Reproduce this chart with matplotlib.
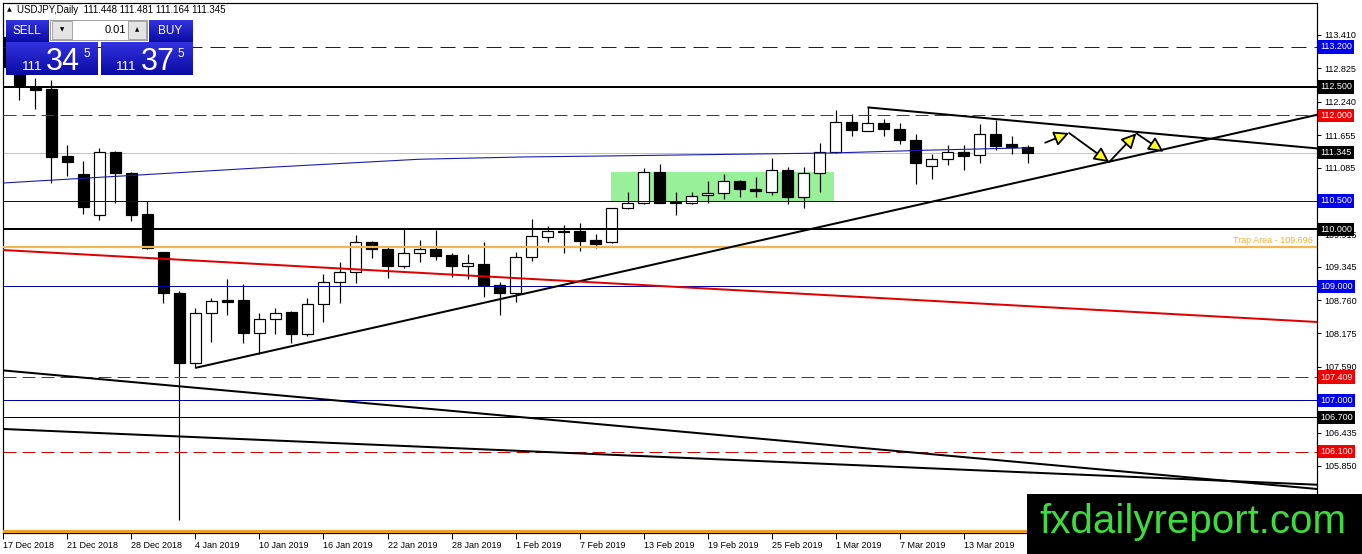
import matplotlib
matplotlib.use("Agg")
import matplotlib.pyplot as plt
from matplotlib.patches import Rectangle
import numpy as np
import pandas as pd

plt.rcParams["font.family"] = ["Liberation Sans", "DejaVu Sans"]

# daily bars, 17 Dec 2018 - 19 Mar 2019 (no bars on 25 Dec and 1 Jan)
bar_dates = pd.bdate_range("2018-12-17", "2019-03-19").drop(pd.to_datetime(["2018-12-25", "2019-01-01"]))

opens = [113.37, 112.84, 112.50, 112.47, 111.28, 110.97, 110.26, 111.36, 110.98, 110.27,
         109.60, 108.88, 107.66, 108.53, 108.76, 108.76, 108.18, 108.42, 108.55, 108.16,
         108.69, 109.08, 109.25, 109.77, 109.65, 109.36, 109.59, 109.65, 109.55, 109.35,
         109.39, 109.03, 108.88, 109.51, 109.87, 109.97, 109.97, 109.81, 109.77, 110.37,
         110.47, 111.00, 110.46, 110.46, 110.60, 110.63, 110.84, 110.70, 110.65, 111.05,
         110.57, 110.98, 111.36, 111.89, 111.73, 111.87, 111.76, 111.57, 111.12, 111.23,
         111.36, 111.30, 111.67, 111.49, 111.448]
highs = [113.49, 112.88, 112.66, 112.62, 111.48, 111.20, 111.42, 111.37, 111.00, 110.50,
         109.61, 108.92, 108.62, 108.79, 109.13, 109.04, 108.53, 108.62, 108.56, 108.79,
         109.21, 109.42, 109.90, 109.80, 109.69, 110.00, 109.81, 109.98, 109.58, 109.57,
         109.77, 109.08, 109.61, 110.18, 110.06, 110.08, 110.11, 109.91, 110.37, 110.66,
         111.07, 111.15, 110.65, 110.66, 110.85, 110.97, 110.87, 110.91, 111.25, 111.09,
         111.09, 111.51, 112.09, 112.02, 112.14, 111.93, 111.86, 111.67, 111.33, 111.48,
         111.48, 111.85, 111.91, 111.64, 111.481]
lows = [112.77, 112.27, 112.11, 110.82, 110.94, 110.27, 110.16, 110.47, 110.15, 109.66,
        108.71, 104.90, 107.57, 108.03, 108.49, 108.00, 107.81, 108.16, 108.00, 108.13,
        108.38, 108.70, 109.06, 109.49, 109.15, 109.33, 109.43, 109.46, 109.17, 109.13,
        108.82, 108.50, 108.73, 109.45, 109.78, 109.58, 109.62, 109.67, 109.76, 110.36,
        110.44, 110.46, 110.25, 110.45, 110.47, 110.53, 110.57, 110.57, 110.60, 110.44,
        110.37, 110.66, 111.34, 111.64, 111.73, 111.63, 111.49, 110.79, 110.88, 111.13,
        111.04, 111.16, 111.40, 111.32, 111.164]
closes = [112.84, 112.53, 112.45, 111.27, 111.19, 110.39, 111.36, 110.98, 110.25, 109.67,
          108.88, 107.66, 108.53, 108.74, 108.73, 108.18, 108.42, 108.53, 108.16, 108.69,
          109.08, 109.25, 109.77, 109.65, 109.36, 109.59, 109.65, 109.54, 109.35, 109.41,
          109.02, 108.88, 109.51, 109.88, 109.97, 109.96, 109.80, 109.74, 110.37, 110.47,
          111.00, 110.47, 110.48, 110.59, 110.64, 110.84, 110.70, 110.68, 111.05, 110.57,
          110.98, 111.36, 111.89, 111.74, 111.87, 111.76, 111.56, 111.16, 111.23, 111.35,
          111.29, 111.67, 111.47, 111.45, 111.345]

# horizontal levels
levels = [113.200, 112.500, 112.000, 110.500, 110.000, 109.000, 107.409, 107.000, 106.700, 106.100]
trap_level = 109.696
bottom_level = 104.71

# moving average line (bar index, price)
ma_bars = [-0.2, 16.7, 26.0, 32.5, 38.4, 51.8, 57.9, 64.0]
ma_prices = [110.81, 111.09, 111.23, 111.27, 111.29, 111.34, 111.39, 111.43]

# trend lines: (bar0, price0, bar1, price1)
support_line = (12.0, 107.57, 82.1, 112.01)
resistance_line = (54.0, 112.14, 82.1, 111.42)
red_line = (-0.2, 109.64, 82.1, 108.375)
long_line_1 = (-0.2, 107.53, 82.1, 105.445)
long_line_2 = (-0.2, 106.50, 82.1, 105.52)

# consolidation box (bar from, bar to, price low, price high)
green_box = (37.97, 51.9, 110.50, 111.00)

# projected path with arrows (bar index, price)
path_bars = [65.1, 66.6, 69.1, 70.8, 72.5]
path_prices = [111.52, 111.69, 111.18, 111.685, 111.36]

y_ticks = [113.410, 112.825, 112.240, 111.655, 111.085, 110.500, 109.915, 109.345,
           108.760, 108.175, 107.590, 107.020, 106.435, 105.850, 105.265]
# ticks whose labels sit under a price box are left blank
hidden_ticks = [110.500, 107.020]

W, H = 1362, 554
fig = plt.figure(figsize=(W / 100, H / 100), dpi=100)
ax = fig.add_axes([3 / W, 1 - 533 / H, 1314 / W, 530 / H])
ax.set_xlim(-0.03, 82.09)
ax.set_ylim(104.673, 113.971)

px = 0.72  # one pixel in points

# green box behind candles
ax.add_patch(Rectangle((green_box[0], green_box[2]), green_box[1] - green_box[0],
                       green_box[3] - green_box[2], facecolor="#98f098", edgecolor="none", zorder=1))

# candles
for i, (o, h, l, c) in enumerate(zip(opens, highs, lows, closes)):
    ax.vlines(i, l, h, color="black", lw=px * 1.2, zorder=3)
    body = max(abs(c - o), 0.014)
    face = "white" if c > o else "black"
    ax.add_patch(Rectangle((i - 0.33, min(o, c)), 0.66, body, facecolor=face,
                           edgecolor="black", lw=px * 1.2, zorder=4))

# horizontal lines
level_style = {
    113.200: dict(color="#1010a0", lw=px, ls=(0, (15, 8))),
    112.500: dict(color="black", lw=2 * px, ls="-"),
    112.000: dict(color="#d00000", lw=px, ls=(0, (13, 6))),
    110.500: dict(color="#0000a0", lw=px, ls="-"),
    110.000: dict(color="black", lw=2 * px, ls="-"),
    109.000: dict(color="#0000a0", lw=px, ls="-"),
    107.409: dict(color="#d00000", lw=px, ls=(0, (13, 6))),
    107.000: dict(color="#0000a0", lw=px, ls="-"),
    106.700: dict(color="black", lw=px, ls="-"),
    106.100: dict(color="#d00000", lw=px, ls=(0, (13, 6))),
}
for lv in levels:
    st = level_style[lv]
    ax.axhline(lv, color=st["color"], lw=st["lw"], linestyle=st["ls"], zorder=5)

ax.axhline(closes[-1], color="#c0c0c0", lw=px, zorder=2)
ax.axhline(trap_level, color="#f2b550", lw=2.2 * px, zorder=5)
ax.axhline(bottom_level, color="#f0a020", lw=3 * px, zorder=5)
ax.text(1 - 4 / 1314, trap_level + 0.03, f"Trap Area - {trap_level:.3f}", transform=ax.get_yaxis_transform(),
        ha="right", va="bottom", fontsize=6.5, color="#f0b040", zorder=6)

# moving average
ax.plot(ma_bars, ma_prices, color="#1a1aa8", lw=px * 1.1, zorder=5)

# trend lines
for ln, col, lw in [(support_line, "black", 2 * px), (resistance_line, "black", 2 * px),
                    (red_line, "#e00000", 2 * px), (long_line_1, "black", 2 * px),
                    (long_line_2, "black", 2 * px)]:
    ax.plot([ln[0], ln[2]], [ln[1], ln[3]], color=col, lw=lw, zorder=5, solid_capstyle="butt")

# projected zigzag with yellow heads
for k in range(len(path_bars) - 1):
    ax.annotate("", xy=(path_bars[k + 1], path_prices[k + 1]), xytext=(path_bars[k], path_prices[k]),
                arrowprops=dict(arrowstyle="-|>,head_length=0.9,head_width=0.45", fc="#ffff20",
                                ec="black", lw=1.3, shrinkA=0, shrinkB=0), zorder=6)

# price labels on the right
level_box = {113.200: "#0000f0", 112.500: "black", 112.000: "#f00000", 110.500: "#0000f0",
             110.000: "black", 109.000: "#0000f0", 107.409: "#f00000", 107.000: "#0000f0",
             106.700: "black", 106.100: "#f00000"}
for lv in levels + [closes[-1]]:
    colr = level_box.get(lv, "black")
    ax.text(1 + 3 / 1314, lv, f"{lv:.3f}", transform=ax.get_yaxis_transform(), ha="left", va="center",
            fontsize=6.5, color="white", clip_on=False, zorder=10,
            bbox=dict(facecolor=colr, edgecolor="none", pad=1.6))

# axes styling
ax.yaxis.tick_right()
ax.set_yticks(y_ticks)
ax.set_yticklabels(["" if t in hidden_ticks else f"{t:.3f}" for t in y_ticks])
ax.tick_params(axis="y", direction="out", length=3, width=px, pad=2, labelsize=6.5)
tick_idx = list(range(0, len(bar_dates), 4))
ax.set_xticks(tick_idx)
ax.set_xticklabels([f"{bar_dates[i].day} {bar_dates[i].strftime('%b %Y')}" for i in tick_idx])
for lbl in ax.get_xticklabels():
    lbl.set_horizontalalignment("left")
ax.tick_params(axis="x", direction="out", length=4, width=px, pad=2, labelsize=6.5)
for sp in ax.spines.values():
    sp.set_linewidth(px * 1.2)
    sp.set_color("black")

# overlay in pixel coordinates for the trading panel and watermark
ov = fig.add_axes([0, 0, 1, 1], zorder=10)
ov.axis("off")


def blue_block(x0, y0, x1, y1):
    g = np.linspace(0, 1, 60).reshape(-1, 1, 1)
    top = np.array([0.20, 0.20, 0.88])
    bot = np.array([0.04, 0.04, 0.64])
    img = top + (bot - top) * g
    ov.imshow(img, extent=(x0, x1, y1, y0), aspect="auto", interpolation="bilinear", zorder=11)


ov.text(9, 10, "▲", fontsize=4.5, ha="center", va="center", family=["DejaVu Sans"])
ov.text(17, 10, "USDJPY,Daily  111.448 111.481 111.164 111.345", fontsize=7, ha="left", va="center")

blue_block(6, 20, 49, 42)
blue_block(149, 20, 193, 42)
blue_block(6, 42, 98, 75)
blue_block(101, 42, 193, 75)
ov.plot([10, 46], [42, 42], color="#8c8cff", lw=px)
ov.plot([153, 190], [42, 42], color="#8c8cff", lw=px)
ov.add_patch(Rectangle((50, 20), 97, 20, facecolor="white", edgecolor="#a0a0a0", lw=px, zorder=11))
ov.add_patch(Rectangle((52, 21), 20, 18, facecolor="#e4e4e4", edgecolor="#a8a8a8", lw=px, zorder=12))
ov.add_patch(Rectangle((128, 21), 18, 18, facecolor="#e4e4e4", edgecolor="#a8a8a8", lw=px, zorder=12))
ov.text(62, 30, "▼", fontsize=4, ha="center", va="center", zorder=13, family=["DejaVu Sans"])
ov.text(137, 30, "▲", fontsize=4, ha="center", va="center", zorder=13, family=["DejaVu Sans"])
ov.text(126, 30, "0.01", fontsize=8, ha="right", va="center", zorder=13)
ov.text(27, 31, "SELL", fontsize=8.5, color="white", ha="center", va="center", zorder=13)
ov.text(170, 31, "BUY", fontsize=8.5, color="white", ha="center", va="center", zorder=13)

for x_small, x_big, x_sup, big in [(22, 46, 83, "34"), (116, 141, 177, "37")]:
    ov.text(x_small, 70, "111", fontsize=9.5, color="white", ha="left", va="baseline", zorder=13)
    ov.text(x_big, 70, big, fontsize=22, color="white", ha="left", va="baseline", zorder=13)
    ov.text(x_sup, 57, "5", fontsize=8.5, color="white", ha="left", va="baseline", zorder=13)

# watermark
ov.add_patch(Rectangle((1027, 494), 335, 60, facecolor="black", edgecolor="none", zorder=11))
ov.text(1193, 522, "fxdailyreport.com", fontsize=29, color="#3ddc3d", ha="center", va="center", zorder=12)

ov.set_xlim(0, W)
ov.set_ylim(H, 0)

fig.savefig("out.png", dpi=100, facecolor="white")
